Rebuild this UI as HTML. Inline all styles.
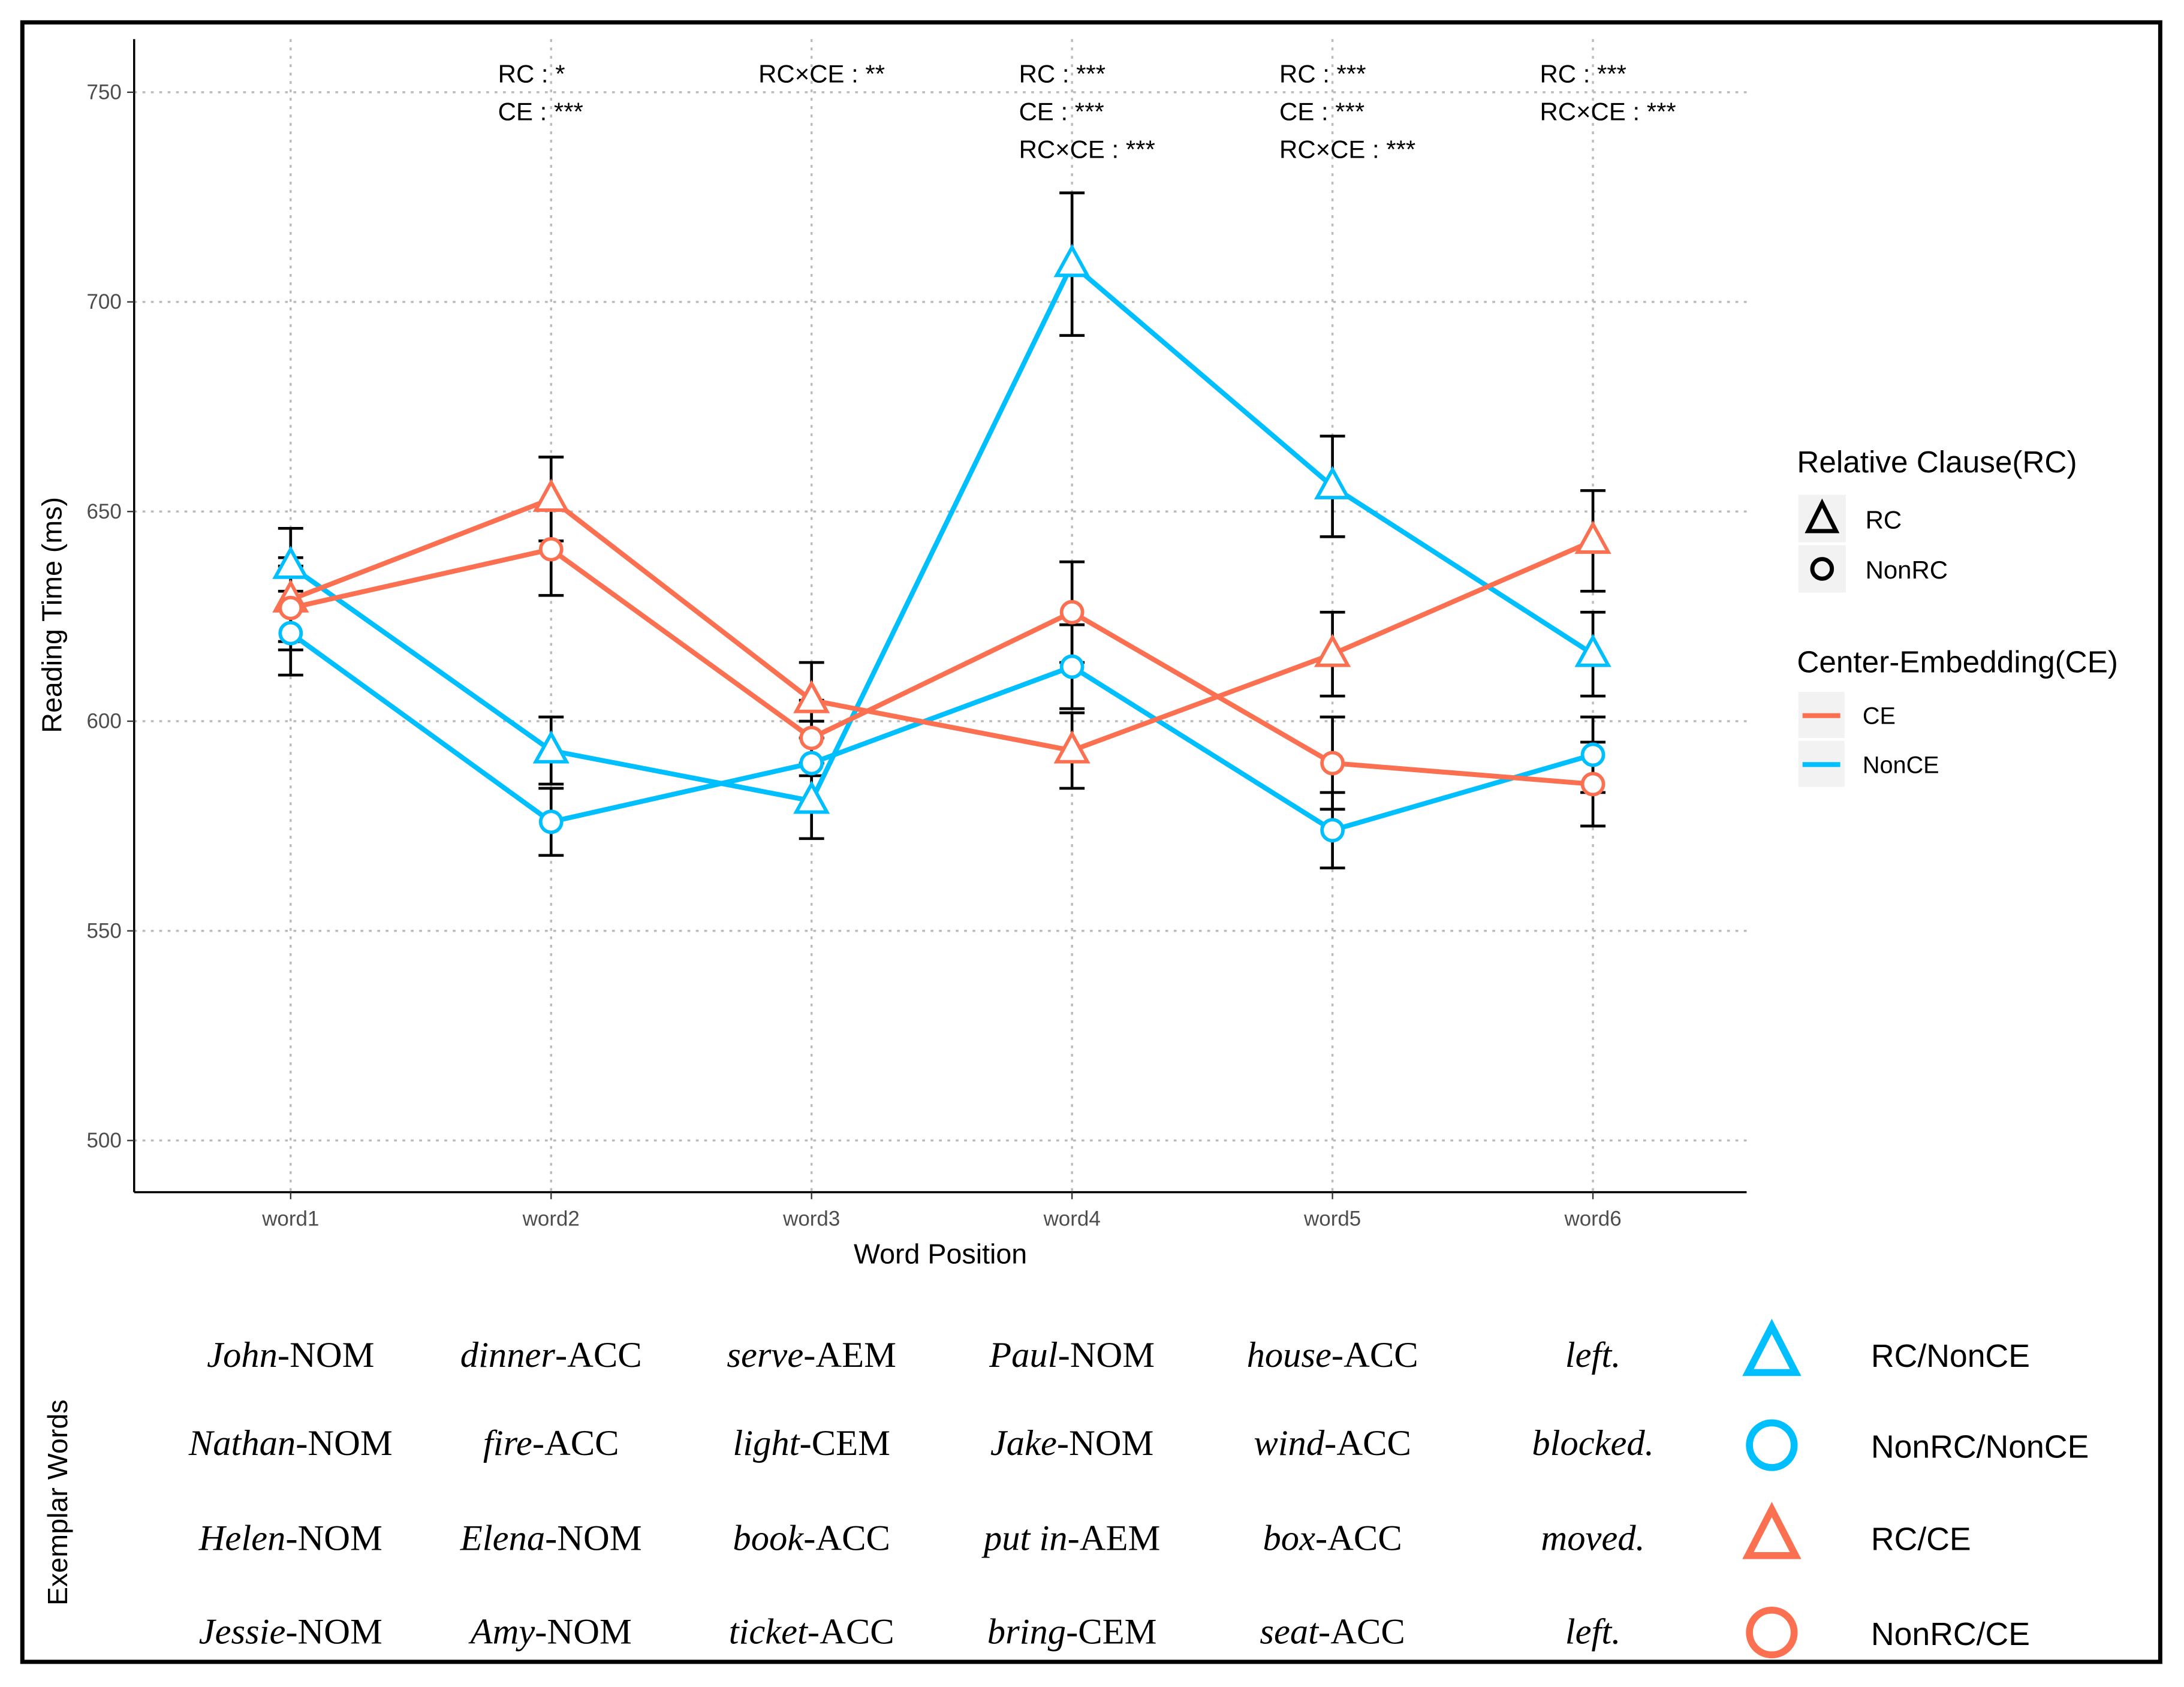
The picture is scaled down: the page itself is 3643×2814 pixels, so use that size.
<!DOCTYPE html>
<html><head><meta charset="utf-8">
<style>
html,body{margin:0;padding:0;background:#fff;}
svg{display:block;}
text{font-family:"Liberation Sans",sans-serif;}
.serif{font-family:"Liberation Serif",serif;}
</style></head>
<body>
<svg id="chart" width="3643" height="2814" viewBox="0 0 1563 1207" preserveAspectRatio="none" xmlns="http://www.w3.org/2000/svg">
<rect x="0" y="0" width="1563" height="1207" fill="#fff"/>
<rect x="16" y="16" width="1530" height="1173" fill="none" stroke="#000" stroke-width="3"/>
<g id="grid"></g>
<g id="axes"></g>
<g id="series"></g>
<g id="annot"></g>
<g id="legend"></g>
<g id="bottom"></g>
</svg>
<script>
const categories = ["word1","word2","word3","word4","word5","word6"];
const yTicks = [500,550,600,650,700,750];
const rcNonCE = [637,593,581,709,656,616];
const nonrcNonCE = [621,576,590,613,574,592];
const rcCE = [629,653,605,593,616,643];
const nonrcCE = [627,641,596,626,590,585];
const errRcNonCE = [9,8,9,17,12,10];
const errNonrcNonCE = [10,8,10,10,9,9];
const errRcCE = [10,10,9,9,10,12];
const errNonrcCE = [10,11,9,12,11,10];
const annotations = [["RC : *","CE : ***"],["RC×CE : **"],["RC : ***","CE : ***","RC×CE : ***"],["RC : ***","CE : ***","RC×CE : ***"],["RC : ***","RC×CE : ***"]];
const annotCols = [1,2,3,4,5];

const NS="http://www.w3.org/2000/svg";
function mk(tag,attrs,parent,txt){const e=document.createElementNS(NS,tag);for(const k in attrs)e.setAttribute(k,attrs[k]);if(txt!==undefined)e.textContent=txt;parent.appendChild(e);return e;}
const BLUE="#00BFFF", ORANGE="#FA7050";
const x=i=>208+i*186.4;
const y=v=>66+(750-v)*3;
const L=96,R=1250,T=28,B=853;

const grid=document.getElementById('grid');
yTicks.forEach(t=>{const l=mk('line',{x1:L,x2:R,y1:y(t),y2:y(t),stroke:'#bbb','stroke-width':1.5,'stroke-dasharray':'2,4'},grid);

});
categories.forEach((c,i)=>{const l=mk('line',{x1:x(i),x2:x(i),y1:T,y2:B,stroke:'#bbb','stroke-width':1.5,'stroke-dasharray':'2,4'},grid);

});

const axes=document.getElementById('axes');
let a=mk('line',{x1:L,x2:L,y1:T,y2:B,stroke:'#000','stroke-width':1.5},axes);

a=mk('line',{x1:L,x2:R,y1:B,y2:B,stroke:'#000','stroke-width':1.5},axes);

yTicks.forEach(t=>{mk('line',{x1:L-5,x2:L,y1:y(t),y2:y(t),stroke:'#333'},axes);
const tx=mk('text',{x:L-9,y:y(t)+5,'text-anchor':'end','font-size':15,fill:'#4d4d4d'},axes,t);

});
categories.forEach((c,i)=>{mk('line',{x1:x(i),x2:x(i),y1:B,y2:B+5,stroke:'#333'},axes);
const tx=mk('text',{x:x(i),y:B+24,'text-anchor':'middle','font-size':15,fill:'#4d4d4d'},axes,c);

});
a=mk('text',{x:673,y:904,'text-anchor':'middle','font-size':20},axes,'Word Position');

a=mk('text',{x:44,y:440,'text-anchor':'middle','font-size':20,transform:'rotate(-90 44 440)'},axes,'Reading Time (ms)');


const sg=document.getElementById('series');
const series=[
 {name:'rc-nonce',vals:rcNonCE,err:errRcNonCE,col:BLUE,shape:'tri'},
 {name:'nonrc-nonce',vals:nonrcNonCE,err:errNonrcNonCE,col:BLUE,shape:'circ'},
 {name:'rc-ce',vals:rcCE,err:errRcCE,col:ORANGE,shape:'tri'},
 {name:'nonrc-ce',vals:nonrcCE,err:errNonrcCE,col:ORANGE,shape:'circ'}];
series.forEach(s=>{s.vals.forEach((v,i)=>{const g=mk('g',{},sg);


mk('line',{x1:x(i),x2:x(i),y1:y(v+s.err[i]),y2:y(v-s.err[i]),stroke:'#000','stroke-width':2},g);
mk('line',{x1:x(i)-9,x2:x(i)+9,y1:y(v+s.err[i]),y2:y(v+s.err[i]),stroke:'#000','stroke-width':2},g);
mk('line',{x1:x(i)-9,x2:x(i)+9,y1:y(v-s.err[i]),y2:y(v-s.err[i]),stroke:'#000','stroke-width':2},g);});});
series.forEach(s=>{const p=mk('polyline',{points:s.vals.map((v,i)=>x(i)+','+y(v)).join(' '),fill:'none',stroke:s.col,'stroke-width':3.5},sg);

});
series.forEach(s=>{s.vals.forEach((v,i)=>{let m;
if(s.shape==='tri'){const cx=x(i),cy=y(v);m=mk('polygon',{points:`${cx},${cy-12} ${cx-11},${cy+8} ${cx+11},${cy+8}`,fill:'#fff',stroke:s.col,'stroke-width':2.5},sg);}
else m=mk('circle',{cx:x(i),cy:y(v),r:7.5,fill:'#fff',stroke:s.col,'stroke-width':2.5},sg);

});});

const an=document.getElementById('annot');
annotations.forEach((lines,k)=>{lines.forEach((t,j)=>{const tx=mk('text',{x:x(annotCols[k])-38,y:59+j*27,'font-size':18},an,t);

});});

const lg=document.getElementById('legend');
let t=mk('text',{x:1286,y:338,'font-size':22},lg,'Relative Clause(RC)');

mk('rect',{x:1287,y:354,width:34,height:34,fill:'#f2f2f2'},lg);
mk('rect',{x:1287,y:390,width:34,height:34,fill:'#f2f2f2'},lg);
mk('polygon',{points:'1304,360 1294,380 1314,380',fill:'none',stroke:'#000','stroke-width':3},lg);
mk('circle',{cx:1304,cy:407,r:7,fill:'none',stroke:'#000','stroke-width':3},lg);
t=mk('text',{x:1335,y:378,'font-size':18},lg,'RC');
t=mk('text',{x:1335,y:414,'font-size':18},lg,'NonRC');
t=mk('text',{x:1286,y:481,'font-size':22},lg,'Center-Embedding(CE)');

mk('rect',{x:1287,y:495,width:33,height:33,fill:'#f2f2f2'},lg);
mk('rect',{x:1287,y:530,width:33,height:33,fill:'#f2f2f2'},lg);
mk('line',{x1:1290,x2:1317,y1:512,y2:512,stroke:ORANGE,'stroke-width':3.5},lg);
mk('line',{x1:1290,x2:1317,y1:547,y2:547,stroke:BLUE,'stroke-width':3.5},lg);
t=mk('text',{x:1333,y:518,'font-size':17},lg,'CE');
t=mk('text',{x:1333,y:553,'font-size':17},lg,'NonCE');

const bt=document.getElementById('bottom');
t=mk('text',{x:48,y:1075,'text-anchor':'middle','font-size':20,transform:'rotate(-90 48 1075)'},bt,'Exemplar Words');

const rows=[[["John","NOM"],["dinner","ACC"],["serve","AEM"],["Paul","NOM"],["house","ACC"],["left.",""]],
[["Nathan","NOM"],["fire","ACC"],["light","CEM"],["Jake","NOM"],["wind","ACC"],["blocked.",""]],
[["Helen","NOM"],["Elena","NOM"],["book","ACC"],["put in","AEM"],["box","ACC"],["moved.",""]],
[["Jessie","NOM"],["Amy","NOM"],["ticket","ACC"],["bring","CEM"],["seat","ACC"],["left.",""]]];
const rowY=[978,1041,1109,1176];
rows.forEach((r,ri)=>{r.forEach((w,ci)=>{const tx=mk('text',{x:x(ci),y:rowY[ri],'text-anchor':'middle','font-size':26,'class':'serif'},bt);


mk('tspan',{'font-style':'italic'},tx,w[0]);
if(w[1])mk('tspan',{},tx,'-'+w[1]);});});
const keys=[['tri',BLUE,'RC/NonCE'],['circ',BLUE,'NonRC/NonCE'],['tri',ORANGE,'RC/CE'],['circ',ORANGE,'NonRC/CE']];
const keyY=[969,1034,1100,1168];
keys.forEach((k,i)=>{const cy=keyY[i];let m;
if(k[0]==='tri')m=mk('polygon',{points:`1268,${cy-20} 1251,${cy+13} 1285,${cy+13}`,fill:'none',stroke:k[1],'stroke-width':5},bt);
else m=mk('circle',{cx:1268,cy:cy,r:16,fill:'none',stroke:k[1],'stroke-width':5},bt);


const tx=mk('text',{x:1339,y:cy+9,'font-size':23},bt,k[2]);

});
</script>
</body></html>
